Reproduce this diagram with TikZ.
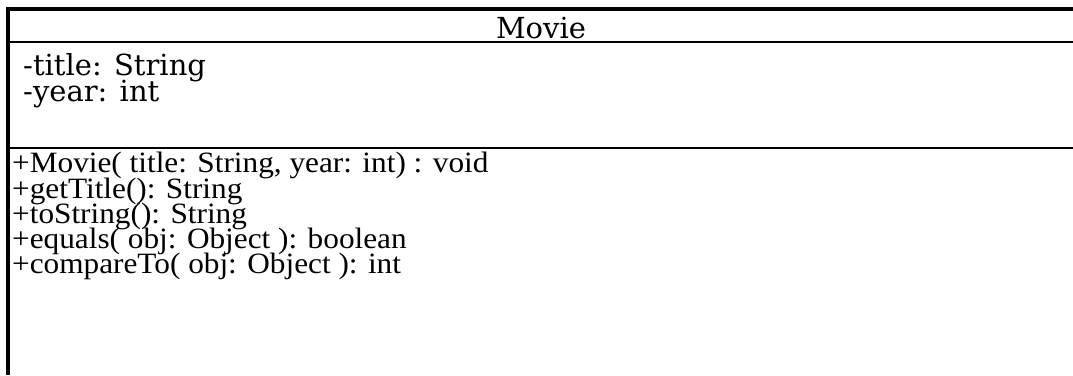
\documentclass[tikz,border=0pt]{standalone}
\usepackage{fontspec}
\setmainfont{Liberation Serif}
\newfontfamily\bkfont{DejaVu Serif}
\newfontfamily\opfont[FakeStretch=1.06]{Liberation Serif}
\usepackage{tikz}
\usetikzlibrary{positioning}

\tikzset{
  attr/.style={anchor=base west, inner sep=0pt, text height=20pt, text depth=5pt,
    font=\bkfont\fontsize{29}{34}\selectfont},
  oper/.style={anchor=base west, inner sep=0pt, text height=18pt, text depth=5pt,
    font=\opfont\fontsize{29.5}{34}\selectfont}
}

\begin{document}
\begin{tikzpicture}[x=1pt,y=-1pt]
    \useasboundingbox (0,0) rectangle (1073,375);

    % Frame and compartments
    \draw[line width=4pt] (8,375) -- (8,9) -- (1073,9);
    \draw[line width=2pt] (8,42) -- (1073,42);
    \draw[line width=2pt] (8,148) -- (1073,148);

    % Class name
    \node[attr, anchor=base] (name) at (541,38) {Movie};

    % Attributes
    \node[attr] (title) at (23,75) {-title: String};
    \node[attr] (year) at (23,101) {-year: int};

    % Operations
    \node[oper] (ctor) at (12,172.5) {+Movie( title: String, year: int) : void};
    \node[oper] (gettitle) at (12,198) {+getTitle(): String};
    \node[oper] (tostring) at (12,223) {+toString(): String};
    \node[oper] (equals) at (12,248) {+equals( obj: Object ): boolean};
    \node[oper] (compare) at (12,273) {+compareTo( obj: Object ): int};
\end{tikzpicture}
\end{document}
